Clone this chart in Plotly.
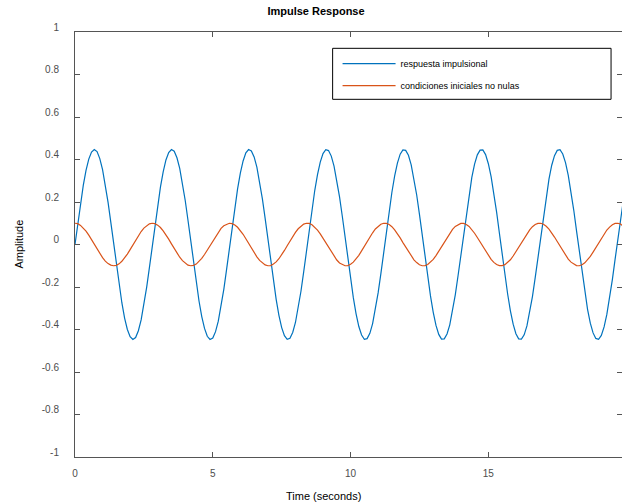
import plotly.graph_objects as go

# sampling instants (s)
time_s = [round(0.1 * i, 1) for i in range(201)]

# respuesta impulsional
impulse = [
    0.000, 0.099, 0.193, 0.278, 0.349, 0.402, 0.435, 0.447, 0.437, 0.404, 0.352, 0.282, 0.198, 0.104,
    0.005, -0.094, -0.189, -0.274, -0.346, -0.400, -0.434, -0.447, -0.438, -0.406, -0.355, -0.286, -0.202, -0.109,
    -0.010, 0.089, 0.184, 0.270, 0.342, 0.398, 0.433, 0.447, 0.439, 0.408, 0.358, 0.290, 0.207, 0.114,
    0.015, -0.085, -0.180, -0.266, -0.339, -0.395, -0.432, -0.447, -0.440, -0.410, -0.361, -0.293, -0.211, -0.118,
    -0.020, 0.080, 0.175, 0.262, 0.336, 0.393, 0.431, 0.447, 0.440, 0.412, 0.364, 0.297, 0.215, 0.123,
    0.025, -0.075, -0.171, -0.258, -0.333, -0.391, -0.429, -0.446, -0.441, -0.414, -0.367, -0.301, -0.220, -0.128,
    -0.030, 0.070, 0.166, 0.254, 0.329, 0.388, 0.428, 0.446, 0.442, 0.416, 0.369, 0.304, 0.224, 0.133,
    0.035, -0.065, -0.162, -0.250, -0.326, -0.386, -0.426, -0.446, -0.443, -0.418, -0.372, -0.308, -0.228, -0.137,
    -0.040, 0.060, 0.157, 0.246, 0.323, 0.383, 0.425, 0.445, 0.443, 0.420, 0.375, 0.312, 0.233, 0.142,
    0.045, -0.055, -0.152, -0.242, -0.319, -0.381, -0.423, -0.445, -0.444, -0.421, -0.378, -0.315, -0.237, -0.147,
    -0.050, 0.050, 0.148, 0.237, 0.316, 0.378, 0.422, 0.444, 0.445, 0.423, 0.380, 0.319, 0.241, 0.152,
    0.054, -0.045, -0.143, -0.233, -0.312, -0.375, -0.420, -0.444, -0.445, -0.425, -0.383, -0.322, -0.245, -0.156,
    -0.059, 0.040, 0.138, 0.229, 0.308, 0.373, 0.418, 0.443, 0.446, 0.426, 0.385, 0.325, 0.249, 0.161,
    0.064, -0.035, -0.133, -0.225, -0.305, -0.370, -0.416, -0.442, -0.446, -0.428, -0.388, -0.329, -0.253, -0.165,
    -0.069, 0.030, 0.129, 0.220, 0.301,
]

# condiciones iniciales no nulas
initial = [
    0.100, 0.098, 0.090, 0.078, 0.063, 0.044, 0.023, 0.001, -0.022, -0.043, -0.062, -0.078, -0.090, -0.097,
    -0.100, -0.098, -0.091, -0.079, -0.063, -0.045, -0.024, -0.002, 0.021, 0.042, 0.061, 0.077, 0.089, 0.097,
    0.100, 0.098, 0.091, 0.080, 0.064, 0.046, 0.025, 0.003, -0.019, -0.041, -0.060, -0.076, -0.089, -0.097,
    -0.100, -0.098, -0.092, -0.080, -0.065, -0.047, -0.026, -0.004, 0.018, 0.040, 0.059, 0.076, 0.088, 0.096,
    0.100, 0.098, 0.092, 0.081, 0.066, 0.048, 0.027, 0.005, -0.017, -0.039, -0.058, -0.075, -0.088, -0.096,
    -0.100, -0.099, -0.092, -0.082, -0.067, -0.049, -0.028, -0.006, 0.016, 0.038, 0.057, 0.074, 0.087, 0.096,
    0.100, 0.099, 0.093, 0.082, 0.068, 0.050, 0.029, 0.007, -0.015, -0.037, -0.056, -0.073, -0.087, -0.095,
    -0.100, -0.099, -0.093, -0.083, -0.068, -0.051, -0.030, -0.008, 0.014, 0.036, 0.055, 0.073, 0.086, 0.095,
    0.100, 0.099, 0.094, 0.084, 0.069, 0.052, 0.031, 0.009, -0.013, -0.035, -0.055, -0.072, -0.085, -0.095,
    -0.100, -0.099, -0.094, -0.084, -0.070, -0.052, -0.032, -0.011, 0.012, 0.034, 0.054, 0.071, 0.085, 0.094,
    0.099, 0.099, 0.094, 0.085, 0.071, 0.053, 0.033, 0.012, -0.011, -0.032, -0.053, -0.070, -0.084, -0.094,
    -0.099, -0.099, -0.095, -0.085, -0.072, -0.054, -0.034, -0.013, 0.010, 0.031, 0.052, 0.069, 0.084, 0.094,
    0.099, 0.100, 0.095, 0.086, 0.072, 0.055, 0.035, 0.014, -0.008, -0.030, -0.051, -0.069, -0.083, -0.093,
    -0.099, -0.100, -0.095, -0.086, -0.073, -0.056, -0.036, -0.015, 0.007, 0.029, 0.050, 0.068, 0.082, 0.093,
    0.099, 0.100, 0.096, 0.087, 0.074,
]

series_names = ["respuesta impulsional", "condiciones iniciales no nulas"]
series_colors = ["#0072BD", "#D95319"]

x_ticks = [0, 5, 10, 15, 20]
x_tick_text = ["0", "5", "10", "15", "20"]
y_ticks = [-1, -0.8, -0.6, -0.4, -0.2, 0, 0.2, 0.4, 0.6, 0.8, 1]
y_tick_text = ["-1", "-0.8", "-0.6", "-0.4", "-0.2", "0", "0.2", "0.4", "0.6", "0.8", "1"]

FONT = "Liberation Sans, Arial, Helvetica, sans-serif"
AXIS_COLOR = "#555555"
TICK_FONT_COLOR = "#4d4d4d"

fig = go.Figure()
for name, ys, col, grp in zip(series_names, [impulse, initial], series_colors, ["g1", "g2"]):
    fig.add_trace(go.Scatter(
        x=time_s, y=ys, mode="lines", name=name, legendgroup=grp,
        line=dict(color=col, width=1.2),
    ))

axis_common = dict(
    ticks="inside", ticklen=5, tickwidth=1, tickcolor=AXIS_COLOR,
    showline=True, linecolor=AXIS_COLOR, linewidth=1, mirror="ticks",
    showgrid=False, zeroline=False,
    tickfont=dict(family=FONT, size=10, color=TICK_FONT_COLOR),
)

fig.update_layout(
    width=622, height=504,
    margin=dict(l=75, r=0, t=32, b=47),
    paper_bgcolor="white", plot_bgcolor="white",
    title=dict(text="<b>Impulse Response</b>", xref="container", x=316 / 622, xanchor="center",
               yref="container", y=1 - 11 / 504, yanchor="middle",
               font=dict(family=FONT, size=11, color="black")),
    showlegend=True,
    legend=dict(x=0.48, y=0.9598, xanchor="left", yanchor="top",
                bgcolor="rgba(0,0,0,0)", borderwidth=0,
                font=dict(family=FONT, size=9, color="black"),
                itemwidth=53, tracegroupgap=3, traceorder="grouped"),
    shapes=[dict(type="rect", xref="paper", yref="paper", x0=0.471, x1=0.98, y0=0.8416, y1=0.9616,
                 line=dict(color="black", width=1), fillcolor="white", layer="below")],
    annotations=[
        dict(text="Time (seconds)", xref="paper", yref="paper", x=0.4534, y=-0.0918,
             xanchor="center", yanchor="middle", showarrow=False,
             font=dict(family=FONT, size=11, color="black")),
        dict(text="Amplitude", xref="paper", yref="paper", x=-0.104, y=0.5, textangle=-90,
             xanchor="center", yanchor="middle", showarrow=False,
             font=dict(family=FONT, size=11, color="black")),
    ],
)
fig.update_xaxes(range=[0, 19.85], tickvals=x_ticks, ticktext=x_tick_text,
                 ticklabelstandoff=7, **axis_common)
fig.update_yaxes(range=[-1, 1], tickvals=y_ticks, ticktext=y_tick_text,
                 ticklabelstandoff=13, ticklabelshift=-5, **axis_common)

fig.write_html(
    "out.html",
    config={"displayModeBar": False},
    post_script="document.body.style.margin='0';document.body.style.overflow='hidden';",
)
